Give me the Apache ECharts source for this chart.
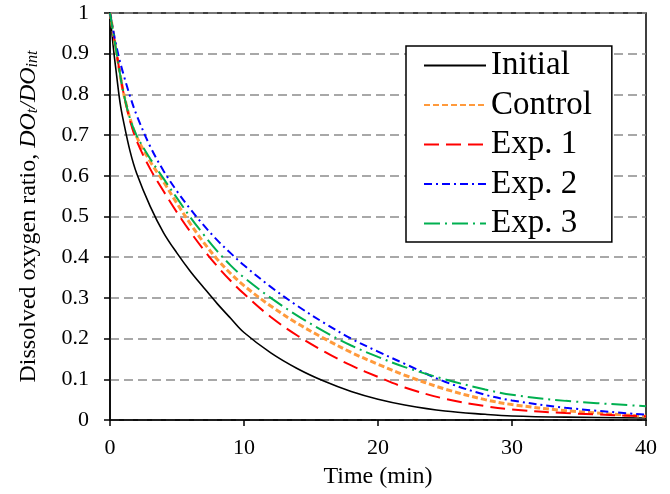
<!DOCTYPE html>
<html>
<head>
<meta charset="utf-8">
<script src="https://cdn.jsdelivr.net/npm/echarts@6/dist/echarts.min.js"></script>
<style>html,body{margin:0;padding:0;background:#fff}#c{width:670px;height:494px}</style>
</head>
<body>
<div id="c"></div>
<script>
var seriesNames = ['Initial', 'Control', 'Exp. 1', 'Exp. 2', 'Exp. 3'];
var times =       [0, 0.25, 0.5, 0.75, 1, 1.5, 2, 3, 4, 5, 6, 7, 8, 9, 10, 12, 14, 16, 18, 20, 22, 25, 28, 30, 34, 40];
var initialVals = [1, 0.915, 0.845, 0.78, 0.735, 0.66, 0.605, 0.525, 0.46, 0.41, 0.365, 0.325, 0.286, 0.25, 0.215, 0.165, 0.126, 0.095, 0.07, 0.051, 0.037, 0.022, 0.014, 0.01, 0.007, 0.005];
var controlVals = [1, 0.95, 0.9, 0.85, 0.805, 0.74, 0.695, 0.635, 0.585, 0.532, 0.482, 0.436, 0.395, 0.36, 0.33, 0.28, 0.237, 0.2, 0.166, 0.137, 0.11, 0.076, 0.05, 0.038, 0.023, 0.009];
var exp1Vals =    [1, 0.95, 0.9, 0.85, 0.805, 0.735, 0.685, 0.617, 0.562, 0.51, 0.462, 0.418, 0.378, 0.342, 0.31, 0.253, 0.207, 0.168, 0.134, 0.106, 0.08, 0.052, 0.034, 0.026, 0.017, 0.009];
var exp2Vals =    [1, 0.955, 0.915, 0.88, 0.85, 0.795, 0.748, 0.672, 0.612, 0.562, 0.518, 0.478, 0.442, 0.41, 0.38, 0.327, 0.28, 0.238, 0.2, 0.168, 0.138, 0.094, 0.062, 0.048, 0.03, 0.013];
var exp3Vals =    [1, 0.95, 0.9, 0.85, 0.805, 0.74, 0.698, 0.642, 0.593, 0.545, 0.498, 0.455, 0.415, 0.38, 0.35, 0.3, 0.256, 0.217, 0.183, 0.155, 0.13, 0.1, 0.075, 0.062, 0.047, 0.034];
var xTicks = [0, 10, 20, 30, 40];
var yTicks = [0, 0.1, 0.2, 0.3, 0.4, 0.5, 0.6, 0.7, 0.8, 0.9, 1];

var allVals = [initialVals, controlVals, exp1Vals, exp2Vals, exp3Vals];
var styles = [
  {color: '#000000', width: 1.6, type: 'solid'},
  {color: '#FF9A3C', width: 3, type: [6, 3]},
  {color: '#FF0000', width: 2, type: [15, 7]},
  {color: '#0000FF', width: 2, type: [8, 4, 2, 4]},
  {color: '#00B050', width: 2, type: [16, 5, 2, 5]}
];
var FONT = '"Liberation Serif", "Times New Roman", serif';

function pairs(vals) {
  return times.map(function (t, i) { return [t, vals[i]]; });
}

var series = seriesNames.map(function (n, k) {
  return {
    name: n,
    type: 'line',
    data: pairs(allVals[k]),
    smooth: 0.35,
    symbol: 'none',
    lineStyle: styles[k],
    itemStyle: {color: styles[k].color},
    z: 2
  };
});

var chart = echarts.init(document.getElementById('c'), null, {renderer: 'canvas'});
chart.setOption({
  animation: false,
  backgroundColor: '#ffffff',
  textStyle: {fontFamily: FONT, color: '#000'},
  grid: {left: 110, right: 24, top: 13, bottom: 71, show: true, borderColor: '#000', borderWidth: 1.5, containLabel: false},
  legend: {
    show: true,
    orient: 'vertical',
    left: 406, top: 46,
    align: 'left',
    padding: [3, 20, 2, 17],
    itemWidth: 62, itemHeight: 14,
    itemGap: 6.5,
    borderColor: '#000', borderWidth: 1.5,
    backgroundColor: '#fff',
    itemStyle: {opacity: 0},
    lineStyle: {opacity: 1},
    textStyle: {fontFamily: FONT, fontSize: 33, color: '#000', lineHeight: 32},
    data: seriesNames.slice()
  },
  xAxis: {
    type: 'value', min: xTicks[0], max: xTicks[xTicks.length - 1], interval: 10,
    name: 'Time (min)', nameLocation: 'middle', nameGap: 45,
    nameTextStyle: {fontFamily: FONT, fontSize: 24, color: '#000'},
    axisLine: {show: true, lineStyle: {color: '#000', width: 1.5}},
    axisTick: {show: true, inside: false, length: 6, lineStyle: {color: '#000', width: 1.5}},
    axisLabel: {fontFamily: FONT, fontSize: 22, color: '#000', margin: 17},
    splitLine: {show: false}
  },
  yAxis: {
    type: 'value', min: yTicks[0], max: yTicks[yTicks.length - 1], interval: 0.1,
    name: 'Dissolved oxygen ratio, {i|DO}{s|t}{i|/DO}{s|int}',
    nameLocation: 'middle', nameGap: 69, nameRotate: 90,
    nameTextStyle: {
      fontFamily: FONT, fontSize: 24, color: '#000',
      rich: {
        i: {fontFamily: FONT, fontSize: 24, fontStyle: 'italic', color: '#000'},
        s: {fontFamily: FONT, fontSize: 16, fontStyle: 'italic', color: '#000', padding: [8, 0, 0, 0]}
      }
    },
    axisLine: {show: true, lineStyle: {color: '#000', width: 1.5}},
    axisTick: {show: true, inside: false, length: 6, lineStyle: {color: '#000', width: 1.5}},
    axisLabel: {fontFamily: FONT, fontSize: 22, color: '#000', margin: 21,
      formatter: function (v) { return String(Math.round(v * 10) / 10); }},
    splitLine: {show: true, lineStyle: {color: '#8c8c8c', width: 1.6, type: [9, 5]}}
  },
  series: series
});
</script>
</body>
</html>
